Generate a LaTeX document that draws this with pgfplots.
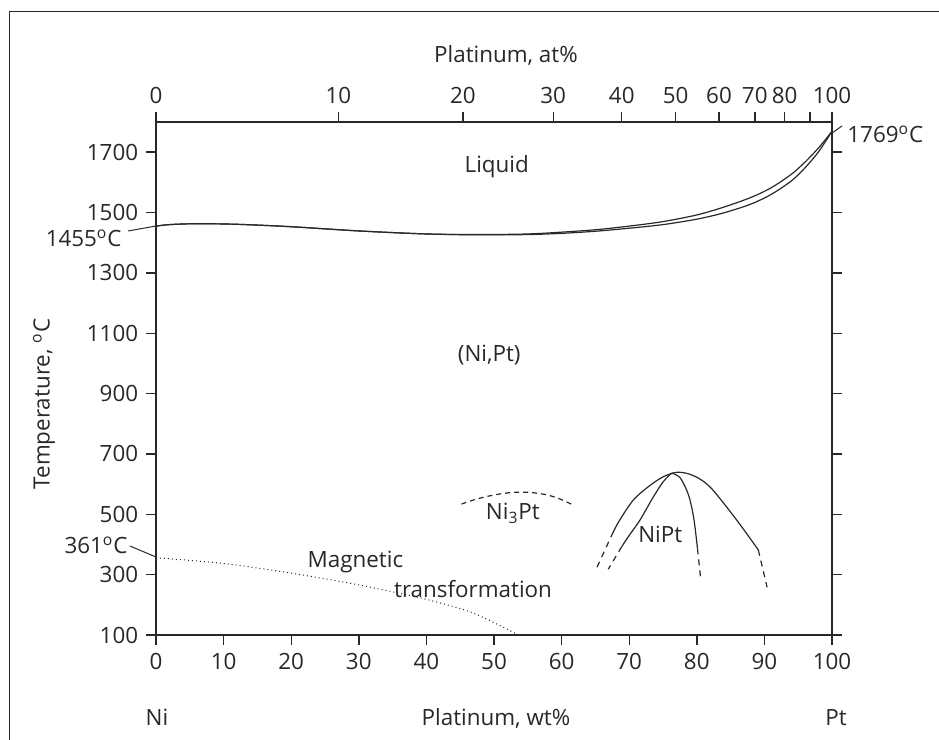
\documentclass[border=0pt]{standalone}
\usepackage{pgfplots}
\pgfplotsset{compat=1.18}
\usepackage{fontspec}
\setmainfont{Open Sans}
\definecolor{ink}{RGB}{40,40,40}
\pgfplotsset{myaxis/.style={
  scale only axis, width=338pt, height=256.5pt,
  xmin=0, xmax=100, ymin=100, ymax=1800,
  at={(78pt,-317.5pt)}, anchor=south west,
  axis line style={ink, line width=0.7pt},
  tick style={ink, line width=0.7pt},
  tick align=outside, major tick length=5pt,
  minor tick num=0,
  ticklabel style={font=\fontsize{11.2}{13}\selectfont, text=ink},
  /pgf/number format/assume math mode=true,
  /pgf/number format/1000 sep={},
  clip=false,
}}
\begin{document}
\fontsize{11.2}{13}\selectfont
\begin{tikzpicture}
\useasboundingbox (0,0) rectangle (469.5pt,-370pt);
\draw[line width=0.5pt, color=ink] (4.5pt,-375pt) -- (4.5pt,-5.5pt) -- (475pt,-5.5pt);

% top / right axis (at%)
\begin{axis}[myaxis,
  xtick={0,26.97,45.39,58.76,68.90,76.87,83.29,88.58,93.00,96.77,100},
  xticklabels={0,10,20,30,40,50,60,70,80,,100},
  xtick pos=upper, xticklabel pos=upper,
  ytick={100,300,...,1700}, ytick pos=right, yticklabels={},
]
\end{axis}

% main axis (wt%)
\begin{axis}[myaxis,
  xtick={0,10,...,100}, xtick pos=lower,
  ytick={100,300,...,1700}, ytick pos=left,
]
% liquidus
\addplot[ink, line width=0.6pt, smooth] coordinates {
(0,1455) (2,1460) (6,1463) (12,1461) (20,1453) (30,1439) (40,1429) (48,1427) (55,1429) (60,1435) (65,1443) (70,1455) (75,1470) (80,1492) (84,1518) (88,1550) (91,1582) (94,1627) (96,1667) (98,1714) (100,1769)};
% solidus
\addplot[ink, line width=0.6pt, smooth] coordinates {
(0,1455) (2,1460) (6,1463) (12,1461) (20,1453) (30,1439) (40,1429) (48,1426) (55,1427) (60,1431) (65,1438) (70,1448) (75,1460) (80,1478) (84,1499) (88,1528) (91,1560) (94,1605) (96,1648) (98,1701) (100,1769)};
% Ni3Pt dome
\addplot[ink, line width=0.6pt, smooth, dash pattern=on 2.5pt off 2pt] coordinates {
(45.2,534) (47.5,551) (50,564) (52.5,572) (55,573) (57.5,566) (59.5,553) (61.5,533)};
% NiPt outer dome
\addplot[ink, line width=0.6pt, smooth] coordinates {
(67.65,442) (68.6,481) (70.6,547) (72.8,591) (75.0,624) (77.0,639) (78.8,634) (80.6,615) (82.4,580) (85.9,481) (89.1,382)};
\addplot[ink, line width=0.6pt, dash pattern=on 3pt off 2.5pt] coordinates {(67.65,442) (65.1,318)};
\addplot[ink, line width=0.6pt, dash pattern=on 3pt off 2.5pt] coordinates {(89.1,382) (90.4,258)};
% NiPt inner left
\addplot[ink, line width=0.6pt, smooth] coordinates {
(76.3,637) (75.0,607) (73.5,555) (71.6,481) (70.0,430) (68.9,393)};
\addplot[ink, line width=0.6pt, dash pattern=on 3pt off 2.5pt] coordinates {(68.9,393) (66.9,318)};
% NiPt inner right
\addplot[ink, line width=0.6pt, smooth] coordinates {
(76.3,637) (77.5,622) (78.4,585) (79.0,547) (79.6,480) (80.1,387)};
\addplot[ink, line width=0.6pt, dash pattern=on 3pt off 2.5pt] coordinates {(80.1,387) (80.6,282)};
% magnetic transformation
\addplot[ink, line width=0.5pt, smooth, dash pattern=on 0.5pt off 1.5pt] coordinates {
(0,356) (10,337) (20,305) (30,266) (40,218) (47,172) (53.6,100)};

\node[ink] at (axis cs:50.4,1651) {Liquid};
\node[ink] at (axis cs:49.3,1028) {(Ni,Pt)};
\node[ink] at (axis cs:52.8,504) {Ni\textsubscript{3}Pt};
\node[ink] at (axis cs:74.6,434) {NiPt};
\node[ink] at (axis cs:29.5,342) {Magnetic};
\node[ink] at (axis cs:46.9,252) {transformation};
\end{axis}

% outside labels
\node[ink, anchor=base] at (253pt,-31pt) {Platinum, at\%};
\node[ink, anchor=base] at (248pt,-362.5pt) {Platinum, wt\%};
\node[ink, anchor=base] at (78.5pt,-362.5pt) {Ni};
\node[ink, anchor=base] at (418pt,-362.5pt) {Pt};
\node[ink, rotate=90] at (22pt,-202pt) {Temperature, \textsuperscript{o}C};
\node[ink, anchor=base east, inner sep=0pt] at (61pt,-123pt) {1455\textsuperscript{o}C};
\draw[ink, line width=0.5pt] (64pt,-115.5pt) -- (78pt,-113pt);
\node[ink, anchor=base east, inner sep=0pt] at (64pt,-276.5pt) {361\textsuperscript{o}C};
\draw[ink, line width=0.5pt] (65pt,-273pt) -- (78pt,-278.5pt);
\node[ink, anchor=base west, inner sep=0pt] at (423.5pt,-71pt) {1769\textsuperscript{o}C};
\draw[ink, line width=0.5pt] (416pt,-66.5pt) -- (421pt,-63pt);
\end{tikzpicture}
\end{document}
